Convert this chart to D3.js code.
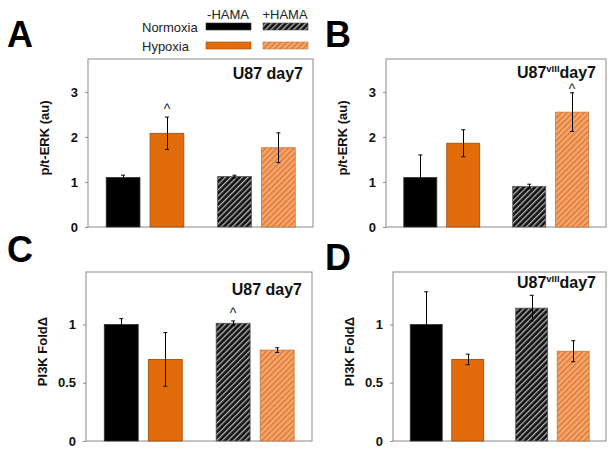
<!DOCTYPE html>
<html><head><meta charset="utf-8">
<script src="https://cdn.jsdelivr.net/npm/d3@7"></script>
<style>
body{margin:0;background:#fff;}
svg{display:block;font-family:Arial,"Liberation Sans",sans-serif;}
</style></head>
<body><svg id="c" width="616" height="455"></svg>
<script>
// ---- data ----
const groups = ["Normoxia -HAMA", "Hypoxia -HAMA", "Normoxia +HAMA", "Hypoxia +HAMA"];
const groupPos = [0, 1, 2.54, 3.54];
const erkU87 = [1.10, 2.08, 1.12, 1.76];
const erkU87Err = [0.05, 0.36, 0.03, 0.33];
const erkU87v = [1.10, 1.86, 0.90, 2.55];
const erkU87vErr = [0.50, 0.30, 0.05, 0.43];
const pi3kU87 = [1.00, 0.70, 1.01, 0.78];
const pi3kU87Err = [0.05, 0.23, 0.02, 0.02];
const pi3kU87v = [1.00, 0.70, 1.14, 0.77];
const pi3kU87vErr = [0.28, 0.045, 0.11, 0.09];
const erkTicks = [0, 1, 2, 3];
const pi3kTicks = [0, 0.5, 1];

const svg = d3.select("#c");
const defs = svg.append("defs");
function hatch(id, bg, fg) {
  const p = defs.append("pattern").attr("id", id).attr("patternUnits", "userSpaceOnUse")
    .attr("width", 4).attr("height", 4).attr("patternTransform", "rotate(45)");
  p.append("rect").attr("width", 4).attr("height", 4).attr("fill", bg);
  p.append("rect").attr("x", 0).attr("width", 1.3).attr("height", 4).attr("fill", fg);
}
hatch("hBlack", "#111", "#b5b5b5");
hatch("hOrange", "#f3a76e", "#e0722a");

const fills = ["#000", "#e36c0a", "url(#hBlack)", "url(#hOrange)"];
const strokes = ["#333", "#9a4a12", "#555", "#c7753c"];

const panels = [
  {letter: "A", lx: 7, ly: 47, box: [88, 59, 313, 227], vals: erkU87, errs: erkU87Err, ymax: 3.73, ticks: erkTicks,
   ylab: "p/t-ERK (au)", title: "U87", sup: null, ty: 79, marks: [[1, 3.5]]},
  {letter: "B", lx: 325, ly: 47, box: [386, 59, 606, 227], vals: erkU87v, errs: erkU87vErr, ymax: 3.73, ticks: erkTicks,
   ylab: "p/t-ERK (au)", title: "U87", sup: "vIII", ty: 78, marks: [[3, -1]]},
  {letter: "C", lx: 7, ly: 262, box: [86, 272, 312, 441], vals: pi3kU87, errs: pi3kU87Err, ymax: 1.45, ticks: pi3kTicks,
   ylab: "PI3K FoldΔ", title: "U87", sup: null, ty: 295, marks: [[2, 3]]},
  {letter: "D", lx: 325, ly: 270, box: [393, 272, 606, 441], vals: pi3kU87v, errs: pi3kU87vErr, ymax: 1.45, ticks: pi3kTicks,
   ylab: "PI3K FoldΔ", title: "U87", sup: "vIII", ty: 288, marks: []}
];

panels.forEach(p => {
  const [x0, y0, x1, y1] = p.box;
  const x = d3.scaleLinear().domain([-0.8, 4.33]).range([x0, x1]);
  const y = d3.scaleLinear().domain([0, p.ymax]).range([y1, y0]);
  const bw = (x(1) - x(0)) * 0.77;
  const g = svg.append("g");

  g.append("text").attr("x", p.lx).attr("y", p.ly).attr("font-size", 36).attr("font-weight", "bold")
    .attr("fill", "#000").text(p.letter);

  g.append("rect").attr("x", x0).attr("y", y0).attr("width", x1 - x0).attr("height", y1 - y0)
    .attr("fill", "none").attr("stroke", "#8a8a8a").attr("stroke-width", 1);

  const ax = g.append("g").attr("transform", `translate(${x0},0)`)
    .call(d3.axisLeft(y).tickValues(p.ticks).tickSize(3).tickPadding(7).tickFormat(d3.format("")));
  ax.select(".domain").remove();
  ax.selectAll("line").attr("stroke", "#8a8a8a");
  ax.selectAll("text").attr("font-size", 13).attr("font-weight", "bold").attr("fill", "#111")
    .attr("font-family", "Arial, 'Liberation Sans', sans-serif");

  g.append("text").attr("transform", `translate(${x0 - 39},${(y0 + y1) / 2 - 5}) rotate(-90)`)
    .attr("text-anchor", "middle").attr("font-size", 13).attr("font-weight", "bold").attr("fill", "#111")
    .text(p.ylab);

  g.selectAll("rect.bar").data(p.vals).join("rect").attr("class", "bar")
    .attr("x", (d, i) => x(groupPos[i]) - bw / 2).attr("width", bw)
    .attr("y", d => y(d)).attr("height", d => y1 - y(d))
    .attr("fill", (d, i) => fills[i]).attr("stroke", (d, i) => strokes[i]).attr("stroke-width", 0.8);

  const eg = g.selectAll("g.err").data(p.vals).join("g").attr("class", "err")
    .attr("stroke", "#000").attr("stroke-width", 1);
  eg.append("line").attr("x1", (d, i) => Math.round(x(groupPos[i])) + 0.5).attr("x2", (d, i) => Math.round(x(groupPos[i])) + 0.5)
    .attr("y1", (d, i) => y(d + p.errs[i])).attr("y2", (d, i) => y(d - p.errs[i]));
  [1, -1].forEach(s => {
    eg.append("line").attr("x1", (d, i) => x(groupPos[i]) - 2).attr("x2", (d, i) => x(groupPos[i]) + 2)
      .attr("y1", (d, i) => y(d + s * p.errs[i])).attr("y2", (d, i) => y(d + s * p.errs[i]));
  });

  p.marks.forEach(([i, off]) => {
    g.append("text").attr("x", x(groupPos[i])).attr("y", y(p.vals[i] + p.errs[i]) - off)
      .attr("text-anchor", "middle").attr("font-size", 14).attr("fill", "#222").text("^");
  });

  const t = g.append("text").attr("x", x1 - 10).attr("y", p.ty).attr("text-anchor", "end")
    .attr("font-size", 16).attr("font-weight", "bold").attr("fill", "#111");
  if (p.sup) {
    t.append("tspan").text(p.title);
    t.append("tspan").attr("font-size", 9.5).attr("dy", -6).text(p.sup);
    t.append("tspan").attr("dy", 6).text("day7");
  } else {
    t.text(p.title + " day7");
  }
});

// legend
const lg = svg.append("g").attr("font-size", 13).attr("fill", "#222");
const legCols = ["-HAMA", "+HAMA"];
const legRows = ["Normoxia", "Hypoxia"];
const colX = [206, 263];
const rowY = [23, 42];
legCols.forEach((c, j) => lg.append("text").attr("x", colX[j] + 22).attr("y", 19).attr("text-anchor", "middle").text(c));
legRows.forEach((r, k) => {
  lg.append("text").attr("x", 142).attr("y", rowY[k] + 9).text(r);
  legCols.forEach((c, j) => {
    const idx = j * 2 + k;
    lg.append("rect").attr("x", colX[j]).attr("y", rowY[k]).attr("width", 45).attr("height", 7)
      .attr("fill", fills[idx]).attr("stroke", strokes[idx]).attr("stroke-width", 0.6);
  });
});
</script></body></html>
